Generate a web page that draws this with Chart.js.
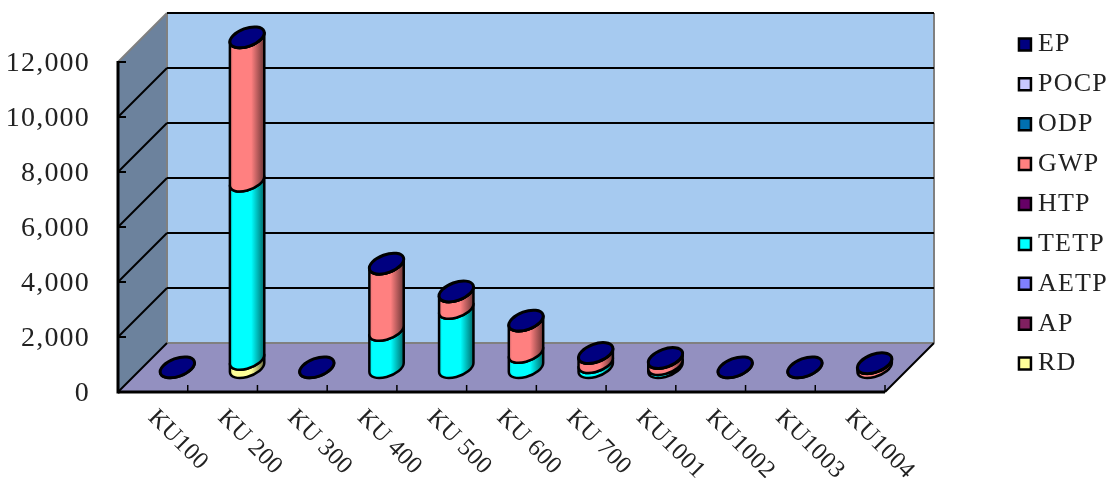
<!DOCTYPE html>
<html>
<head>
<meta charset="utf-8">
<title>KU chart</title>
<script src="https://cdn.jsdelivr.net/npm/chart.js@4/dist/chart.umd.min.js"></script>
<style>
  html, body { margin: 0; padding: 0; background: #fff; }
  canvas { display: block; }
</style>
</head>
<body>
<canvas id="chart" width="1118" height="478"></canvas>
<script>
const categories = ["KU100", "KU 200", "KU 300", "KU 400", "KU 500", "KU 600", "KU 700", "KU1001", "KU1002", "KU1003", "KU1004"];

const rd   = [0, 300, 0, 0, 0, 0, 0, 0, 0, 0, 0];
const ap   = [0, 0, 0, 0, 0, 0, 0, 0, 0, 0, 0];
const aetp = [0, 0, 0, 0, 0, 0, 0, 0, 0, 0, 0];
const tetp = [0, 6480, 0, 1350, 2150, 550, 180, 110, 0, 0, 0];
const htp  = [0, 0, 0, 0, 0, 0, 0, 0, 0, 0, 0];
const gwp  = [0, 5220, 0, 2420, 610, 1150, 340, 230, 0, 0, 150];
const odp  = [0, 0, 0, 0, 0, 0, 0, 0, 0, 0, 0];
const pocp = [0, 0, 0, 0, 0, 0, 0, 0, 0, 0, 0];
const ep   = [5, 5, 5, 5, 5, 5, 5, 5, 5, 5, 5];

const seriesNames = ["RD", "AP", "AETP", "TETP", "HTP", "GWP", "ODP", "POCP", "EP"];
const seriesValues = [rd, ap, aetp, tetp, htp, gwp, odp, pocp, ep];
const seriesColors = ["#FFFF99", "#802060", "#8080FF", "#00FFFF", "#660066", "#FF8080", "#0070B0", "#C8C8FF", "#000080"];

const FONT = '"Liberation Serif", serif';
const DEPTH = 49;          // 3d offset of the back wall
const CYL_A = 18;          // cylinder end ellipse
const CYL_B = 9;
const CYL_ROT = -20 * Math.PI / 180;

function shade(hex, f) {
  const n = parseInt(hex.slice(1), 16);
  return `rgb(${((n >> 16) & 255) * f}, ${((n >> 8) & 255) * f}, ${(n & 255) * f})`;
}

function poly(ctx, pts, fill, stroke, width) {
  ctx.beginPath();
  pts.forEach((p, i) => i ? ctx.lineTo(p[0], p[1]) : ctx.moveTo(p[0], p[1]));
  ctx.closePath();
  if (fill) { ctx.fillStyle = fill; ctx.fill(); }
  if (stroke) { ctx.strokeStyle = stroke; ctx.lineWidth = width; ctx.stroke(); }
}

function line(ctx, x1, y1, x2, y2, color, width) {
  ctx.beginPath();
  ctx.moveTo(x1, y1);
  ctx.lineTo(x2, y2);
  ctx.strokeStyle = color;
  ctx.lineWidth = width;
  ctx.stroke();
}

function drawRoom(chart) {
  const ctx = chart.ctx;
  const { left, right, top, bottom } = chart.chartArea;
  const d = DEPTH;

  poly(ctx, [[left + d, top - d], [right + d, top - d], [right + d, bottom - d], [left + d, bottom - d]], "#A6CAF0");
  poly(ctx, [[left, top], [left + d, top - d], [left + d, bottom - d], [left, bottom]], "#6C829D");
  poly(ctx, [[left, bottom], [left + d, bottom - d], [right + d, bottom - d], [right, bottom]], "#9390C0");

  line(ctx, left, top, left + d, top - d, "#808080", 2);
  line(ctx, left + d, top - d, left + d, bottom - d, "#808080", 2);
  line(ctx, left + d, bottom - d, right + d, bottom - d, "#808080", 2);
  line(ctx, right + d, top - d, right + d, bottom - d, "#808080", 2);

  // grid lines, over the side wall and along the back wall
  const yScale = chart.scales.y;
  yScale.ticks.forEach(t => {
    const y = yScale.getPixelForValue(t.value);
    if (t.value > 0) {
      if (t.value < yScale.max) line(ctx, left, y, left + d, y - d, "#000", 2);
      line(ctx, left + d, y - d, right + d, y - d, "#000", 2);
    }
    line(ctx, left, y, left + 8, y, "#000", 2);
  });
  line(ctx, left, bottom, left + d, bottom - d, "#000", 2);
  line(ctx, right, bottom, right + d, bottom - d, "#000", 2);

  // axes and category ticks
  const xScale = chart.scales.x;
  const step = (right - left) / categories.length;
  categories.forEach((c, i) => {
    const x = xScale.getPixelForTick(i) + step / 2;
    line(ctx, x, bottom, x, bottom - 7, "#000", 1.5);
  });
  line(ctx, left, top - 1, left, bottom + 1.5, "#000", 3);
  line(ctx, left, bottom, right, bottom, "#000", 3);
}

function drawSegment(ctx, x, yTop, yBase, color) {
  const t0 = Math.atan2(-CYL_B * Math.sin(CYL_ROT), CYL_A * Math.cos(CYL_ROT));
  const hx = Math.hypot(CYL_A * Math.cos(CYL_ROT), CYL_B * Math.sin(CYL_ROT));
  const grad = ctx.createLinearGradient(x - hx, 0, x + hx, 0);
  grad.addColorStop(0, shade(color, 0.88));
  grad.addColorStop(0.1, color);
  grad.addColorStop(0.62, color);
  grad.addColorStop(1, shade(color, 0.42));

  ctx.beginPath();
  ctx.ellipse(x, yBase, CYL_A, CYL_B, CYL_ROT, t0, t0 + Math.PI);
  ctx.ellipse(x, yTop, CYL_A, CYL_B, CYL_ROT, t0 + Math.PI, t0, true);
  ctx.closePath();
  ctx.fillStyle = grad;
  ctx.fill();
  ctx.strokeStyle = "#000";
  ctx.lineWidth = 2.5;
  ctx.lineJoin = "round";
  ctx.stroke();
}

function drawCylinders(chart) {
  const ctx = chart.ctx;
  const off = DEPTH / 2;
  categories.forEach((c, i) => {
    let last = null;
    seriesNames.forEach((name, s) => {
      const bar = chart.getDatasetMeta(s).data[i];
      if (seriesValues[s][i] > 0) {
        drawSegment(ctx, bar.x + off, bar.y - off, bar.base - off, seriesColors[s]);
        last = s;
      }
    });
    const top = chart.getDatasetMeta(last).data[i];
    ctx.beginPath();
    ctx.ellipse(top.x + off, top.y - off, CYL_A, CYL_B, CYL_ROT, 0, Math.PI * 2);
    ctx.fillStyle = seriesColors[last];
    ctx.fill();
    ctx.strokeStyle = "#000";
    ctx.lineWidth = 3;
    ctx.stroke();
  });
}

function drawCategoryLabels(chart) {
  const ctx = chart.ctx;
  const xScale = chart.scales.x;
  ctx.save();
  ctx.letterSpacing = "0.3px";
  ctx.font = `24.5px ${FONT}`;
  ctx.fillStyle = "#222";
  ctx.textAlign = "left";
  ctx.textBaseline = "middle";
  categories.forEach((c, i) => {
    ctx.save();
    ctx.translate(xScale.getPixelForTick(i) - 1, 414);
    ctx.rotate(Math.PI / 4);
    ctx.fillText(c, 0, 0);
    ctx.restore();
  });
  ctx.restore();
}

const roomPlugin = {
  id: "room",
  beforeLayout(chart) {
    chart.ctx.letterSpacing = "1.2px";
    const legend = chart.legend;
    if (!legend._patched) {
      const fit = legend.fit;
      legend.fit = function () { fit.call(this); this.width = 233; };
      legend._patched = true;
    }
  },
  afterLayout(chart) {
    const legend = chart.legend;
    legend.left = 1011;
    legend.right = 1118;
    legend.top = 17.5;
    legend.bottom = 478;
  },
  beforeDraw(chart) {
    chart.ctx.letterSpacing = "1.2px";
  },
  beforeDatasetsDraw(chart) {
    drawRoom(chart);
    drawCylinders(chart);
  },
  // the plain bars only carry the geometry, the cylinders replace them
  beforeDatasetDraw() {
    return false;
  },
  afterDatasetsDraw(chart) {
    drawCategoryLabels(chart);
  }
};

new Chart(document.getElementById("chart"), {
  type: "bar",
  data: {
    labels: categories,
    datasets: seriesNames.map((name, s) => ({
      label: name,
      data: seriesValues[s],
      backgroundColor: seriesColors[s],
      borderColor: "#000",
      borderWidth: 2.5
    }))
  },
  options: {
    responsive: false,
    animation: false,
    devicePixelRatio: 1,
    layout: { padding: { top: 62, left: 0, right: 0, bottom: 0 } },
    plugins: {
      tooltip: { enabled: false },
      legend: {
        position: "right",
        align: "start",
        reverse: true,
        labels: {
          usePointStyle: true,
          pointStyle: "rect",
          boxHeight: 12,
          boxWidth: 0.1,   // pulls the text close to the marker
          padding: 13.9,
          color: "#222",
          font: { family: FONT, size: 26 }
        }
      }
    },
    scales: {
      x: {
        stacked: true,
        grid: { display: false },
        border: { display: false },
        ticks: { display: false },
        afterFit(scale) { scale.height = 86; }
      },
      y: {
        stacked: true,
        min: 0,
        max: 12000,
        grid: { display: false, drawTicks: false },
        border: { display: false },
        ticks: {
          stepSize: 2000,
          padding: 28,
          labelOffset: 2,
          color: "#222",
          font: { family: FONT, size: 28 }
        },
        afterFit(scale) { scale.width = 118; }
      }
    }
  },
  plugins: [roomPlugin]
});
</script>
</body>
</html>
